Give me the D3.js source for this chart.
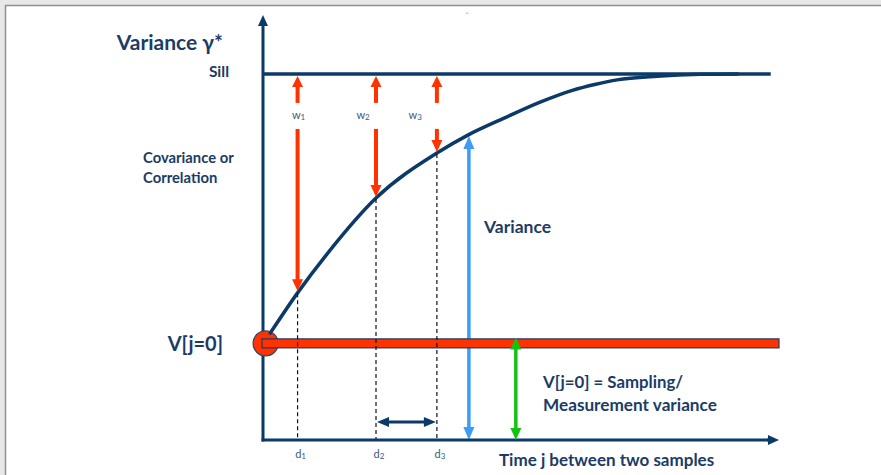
<!DOCTYPE html>
<html>
<head>
<meta charset="utf-8">
<script src="https://cdn.jsdelivr.net/npm/d3@7"></script>
<style>
  html, body { margin: 0; padding: 0; background: #e8e8e8; }
  svg { display: block; }
  text { font-family: Lato, "Open Sans", sans-serif; }
</style>
</head>
<body>
<svg id="chart" width="881" height="475"></svg>
<script>
// ---- data (x: time lag units 0..100, y: variance relative to sill = 1) ----
const sill = 1.0;
const nugget = 0.264;
const curveX = [1.4, 6.8, 12.4, 21.9, 33.7, 39.7, 47.3, 53.7, 60.1, 64.5, 68.6, 76.4, 84.7, 92];
const curveY = [0.292, 0.404, 0.508, 0.661, 0.784, 0.833, 0.883, 0.923, 0.956, 0.972, 0.984, 0.994, 0.999, 1.0];
const lagNames = ["1", "2", "3"];
const lagX = [6.7, 21.9, 33.7];
const lagY = [0.404, 0.661, 0.784];
const wLabelX = [6.9, 19.4, 29.5];
const varianceArrowX = 39.9;
const varianceArrowTop = 0.833;
const nuggetArrowX = 49.0;
const xMax = 100;
const sillEnd = 98.4;

const svg = d3.select("#chart");
const W = 881, H = 475;

const x = d3.scaleLinear().domain([0, xMax]).range([263, 779]);
const y = d3.scaleLinear().domain([0, 1]).range([440, 74]);

const navy = "#0b3a69";
const textNavy = "#1b3c66";
const red = "#ff3300";
const blue = "#3d9df5";
const green = "#11c411";

// page frame
svg.append("rect").attr("x", 0).attr("y", 0).attr("width", W).attr("height", H).attr("fill", "#e8e8e8");
svg.append("rect").attr("x", 5.5).attr("y", 5.5).attr("width", W + 10).attr("height", H + 10)
  .attr("fill", "#ffffff").attr("stroke", "#8f8f8f").attr("stroke-width", 1.5);
svg.append("text").attr("x", 467).attr("y", 19).attr("font-size", 9).attr("fill", "#999").attr("text-anchor", "middle").text("˘");

// arrow helper: shaft + triangular heads
function arrow(g, x1, y1, x2, y2, color, shaftW, headW, headL, both) {
  const dx = x2 - x1, dy = y2 - y1, len = Math.hypot(dx, dy);
  const ux = dx / len, uy = dy / len, px = -uy, py = ux;
  const s1 = both ? headL * 0.9 : 0;
  g.append("line")
    .attr("x1", x1 + ux * s1).attr("y1", y1 + uy * s1)
    .attr("x2", x2 - ux * headL * 0.9).attr("y2", y2 - uy * headL * 0.9)
    .attr("stroke", color).attr("stroke-width", shaftW);
  const head = (tx, ty, dirx, diry) => {
    const bx = tx - dirx * headL, by = ty - diry * headL;
    g.append("polygon")
      .attr("points", [[tx, ty], [bx + px * headW / 2, by + py * headW / 2], [bx - px * headW / 2, by - py * headW / 2]].map(p => p.join(",")).join(" "))
      .attr("fill", color);
  };
  head(x2, y2, ux, uy);
  if (both) head(x1, y1, -ux, -uy);
}

const g = svg.append("g");

// blue variance arrow (behind the nugget bar)
arrow(g, x(varianceArrowX), y(varianceArrowTop) + 1, x(varianceArrowX), y(0), blue, 3.5, 11, 13, true);

// y axis
arrow(g, x(0), y(0) + 1.5, x(0), y(1.161), navy, 3, 10, 11, false);
// x axis
g.append("line").attr("x1", x(0) - 1.5).attr("x2", x(xMax) - 10).attr("y1", y(0)).attr("y2", y(0))
  .attr("stroke", navy).attr("stroke-width", 3);
arrow(g, x(xMax) - 12, y(0), x(xMax), y(0), navy, 3, 10, 11, false);

// sill line
g.append("line").attr("x1", x(0)).attr("x2", x(sillEnd)).attr("y1", y(sill)).attr("y2", y(sill))
  .attr("stroke", navy).attr("stroke-width", 3.5);

// nugget circle and bar
g.append("circle").attr("cx", x(0.5)).attr("cy", y(nugget)).attr("r", 12.5)
  .attr("fill", red).attr("stroke", "#2c4a72").attr("stroke-width", 1.2);
g.append("rect").attr("x", x(-0.2)).attr("y", y(nugget) - 4.5).attr("width", x(xMax) - x(-0.2)).attr("height", 9)
  .attr("fill", red).attr("stroke", "#1f3864").attr("stroke-width", 1.2);

// variogram curve
const pts = curveX.map((v, i) => [x(v), y(curveY[i])]);
g.append("path").attr("d", d3.line().curve(d3.curveMonotoneX)(pts))
  .attr("fill", "none").attr("stroke", navy).attr("stroke-width", 3.5).attr("stroke-linecap", "round");

// dashed lag lines
lagX.forEach((lx, i) => {
  g.append("line").attr("x1", x(lx)).attr("x2", x(lx)).attr("y1", y(lagY[i]) + 1).attr("y2", y(0) - 1)
    .attr("stroke", "#111").attr("stroke-width", 1.2).attr("stroke-dasharray", "4,3");
});

// red w arrows
lagX.forEach((lx, i) => {
  arrow(g, x(lx), y(0.921), x(lx), y(sill) + 2, red, 4, 11, 11, false);
  arrow(g, x(lx), y(0.850), x(lx), y(lagY[i]) - 1, red, 4, 11, 12, false);
  const t = g.append("text").attr("x", x(wLabelX[i])).attr("y", y(0.877)).attr("text-anchor", "middle")
    .attr("font-size", 11).attr("fill", "#3a5a84");
  t.append("tspan").text("w");
  t.append("tspan").attr("font-size", 8).attr("dy", 1).text(lagNames[i]);
});

// lag labels on x axis
lagX.forEach((lx, i) => {
  const t = g.append("text").attr("x", x(lx) + 3).attr("y", y(0) + 18).attr("text-anchor", "middle")
    .attr("font-size", 11).attr("fill", "#3a5a84");
  t.append("tspan").text("d");
  t.append("tspan").attr("font-size", 8).attr("dy", 1).text(lagNames[i]);
});

// horizontal lag-spacing arrow
arrow(g, x(lagX[1]) + 1, y(0.049), x(lagX[2]) - 1, y(0.049), navy, 3, 10, 12, true);

// green nugget arrow
arrow(g, x(nuggetArrowX), y(nugget) - 6, x(nuggetArrowX), y(0), green, 3.5, 11, 12, true);

// texts
const txt = (tx, ty, s, size, anchor) => g.append("text").attr("x", tx).attr("y", ty).attr("font-size", size)
  .attr("font-weight", "bold").attr("fill", textNavy).attr("text-anchor", anchor || "start").text(s);
txt(223, 50, "Variance γ*", 21, "end");
txt(229, y(sill) + 3, "Sill", 15.5, "end");
txt(143, 163, "Covariance or", 14.8);
txt(143, 183, "Correlation", 14.8);
txt(223, y(nugget) + 8, "V[j=0]", 20, "end");
txt(484, 233, "Variance", 17.5);
txt(543, 388, "V[j=0] = Sampling/", 16.8);
txt(543, 411, "Measurement variance", 17.2);
txt(499, 466, "Time j between two samples", 17);
</script>
</body>
</html>
